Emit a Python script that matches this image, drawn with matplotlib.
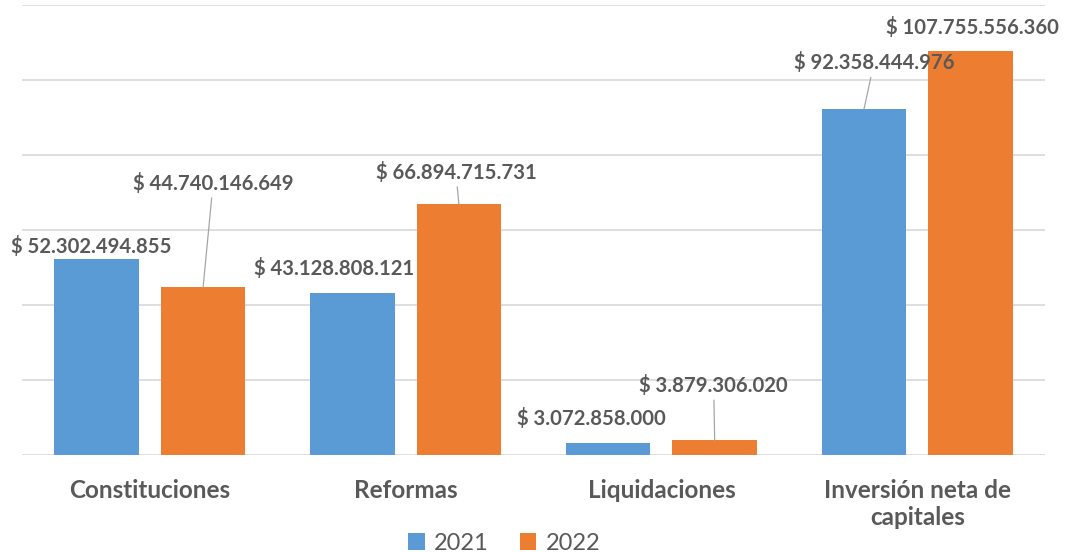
import numpy as np
import matplotlib
matplotlib.use("Agg")
import matplotlib.pyplot as plt

# datos
categorias = ["Constituciones", "Reformas", "Liquidaciones", "Inversión neta de\ncapitales"]
anios = ["2021", "2022"]
valores_2021 = [52302494855, 43128808121, 3072858000, 92358444976]
valores_2022 = [44740146649, 66894715731, 3879306020, 107755556360]

# desplazamiento de etiquetas (pixeles) y si llevan linea guia
off_2021 = [(-5, 12), (-18, 25), (-17, 25), (10, 46)]
off_2022 = [(10, 104), (-3, 32), (-1, 55), (2, 24)]
guia_2021 = [False, False, False, True]
guia_2022 = [True, True, True, False]

azul = "#5B9BD5"
naranja = "#ED7D31"
gris_txt = "#595959"

plt.rcParams['font.family'] = ['Lato', 'DejaVu Sans']

fig = plt.figure(figsize=(10.68, 5.52), dpi=100)
ax = fig.add_axes([0.0206, 0.1757, 0.958, 0.815])

x = np.arange(len(categorias))
ancho = 0.33
sep = 0.208

b1 = ax.bar(x - sep, valores_2021, ancho, color=azul, label=anios[0], zorder=3)
b2 = ax.bar(x + sep, valores_2022, ancho, color=naranja, label=anios[1], zorder=3)

def fmt(v):
    return "$ " + f"{v:,}".replace(",", ".")

def etiquetas(barras, vals, offs, guias):
    for bar, v, (dx, dy), g in zip(barras, vals, offs, guias):
        xc = bar.get_x() + bar.get_width() / 2
        props = None
        if g:
            props = dict(arrowstyle='-', color='#A6A6A6', lw=0.9, shrinkA=1, shrinkB=0)
        ax.annotate(fmt(v), xy=(xc, v), xytext=(dx, dy), textcoords='offset pixels',
                    ha='center', va='center', fontsize=14.6, fontweight='bold',
                    color=gris_txt, arrowprops=props, zorder=4)

etiquetas(b1, valores_2021, off_2021, guia_2021)
etiquetas(b2, valores_2022, off_2022, guia_2022)

ax.set_xlim(-0.5, 3.5)
ax.set_ylim(0, 120e9)
ax.set_yticks(np.arange(0, 121e9, 20e9))
ax.yaxis.grid(True, color='#D9D9D9', lw=1.2, zorder=0)
ax.set_yticklabels([])
ax.tick_params(axis='y', length=0)
ax.tick_params(axis='x', length=0, pad=17)
ax.set_xticks(x)
ax.set_xticklabels(categorias, fontsize=17.5, fontweight='bold', color=gris_txt, linespacing=1.25)
for s in ax.spines.values():
    s.set_visible(False)

leg = fig.legend(loc='lower center', bbox_to_anchor=(0.472, -0.042), ncol=2, frameon=False,
                 fontsize=17, handlelength=0.7, handleheight=0.7, handletextpad=0.4,
                 columnspacing=1.3)
for t in leg.get_texts():
    t.set_color(gris_txt)

fig.savefig("out.png", dpi=100)
